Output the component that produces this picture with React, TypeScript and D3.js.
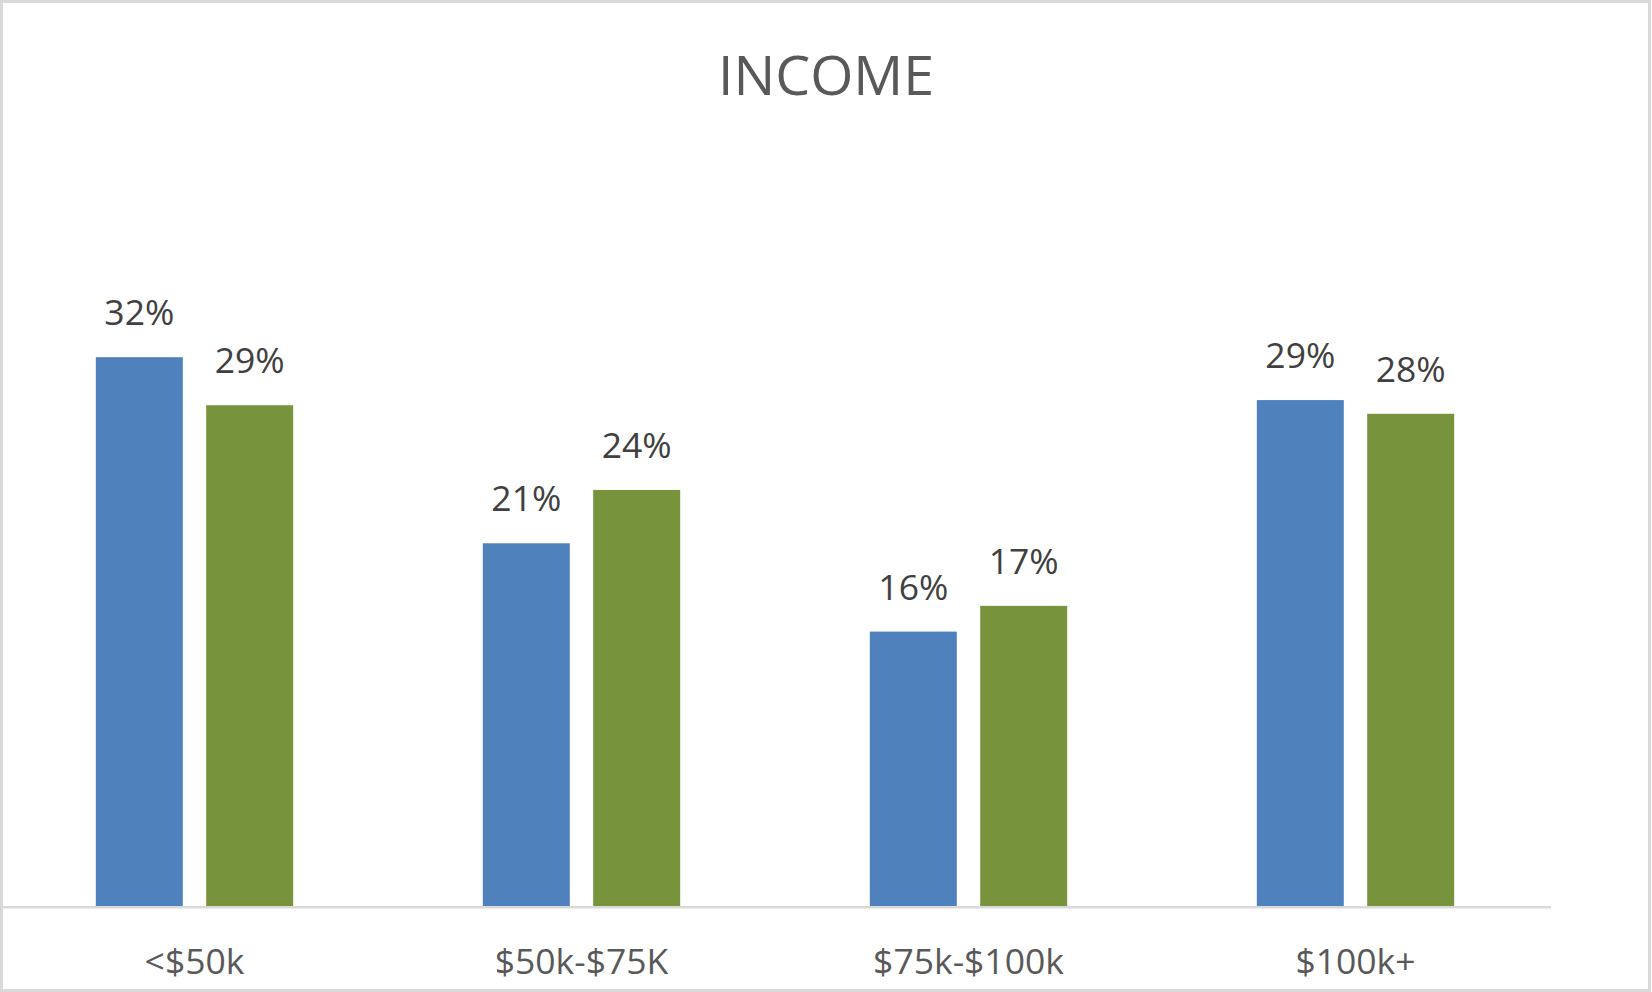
import React from "react";
import * as d3 from "d3";

const categories = ["<$50k", "$50k-$75K", "$75k-$100k", "$100k+"];
const seriesNames = ["Series A", "Series B"];
const seriesA = [32.0, 21.15, 16.0, 29.5];
const seriesB = [29.2, 24.26, 17.5, 28.7];
const labelsA = ["32%", "21%", "16%", "29%"];
const labelsB = ["29%", "24%", "17%", "28%"];
const colors = ["#4F81BD", "#77933C"];

const W = 1652;
const H = 992;

export default function App() {
  const plotLeft = 1;
  const plotRight = 1549;
  const zeroY = 906;
  const pxPerPct = 17.15;
  const yMax = 35;
  const y = d3.scaleLinear().domain([0, yMax]).range([zeroY, zeroY - yMax * pxPerPct]);
  const x0 = d3
    .scaleBand<string>()
    .domain(categories)
    .range([plotLeft, plotRight])
    .paddingInner(0.49)
    .paddingOuter(0.245);
  const x1 = d3
    .scaleBand<string>()
    .domain(seriesNames)
    .range([0, x0.bandwidth()])
    .paddingInner(0.212);
  const series = [
    { name: seriesNames[0], values: seriesA, labels: labelsA, color: colors[0] },
    { name: seriesNames[1], values: seriesB, labels: labelsB, color: colors[1] },
  ];
  const font = "'Open Sans', 'Noto Sans', sans-serif";
  return (
    <svg
      width={W}
      height={H}
      style={{ position: "absolute", left: 0, top: 0, background: "#fff" }}
      fontFamily={font}
    >
      <rect x={0} y={0} width={W} height={H} fill="#ffffff" />
      <text x={826} y={95} textAnchor="middle" fontSize={55.5} fill="#595959">
        INCOME
      </text>
      {series.map((s) =>
        categories.map((c, i) => {
          const bx = (x0(c) as number) + (x1(s.name) as number);
          const bw = x1.bandwidth();
          const top = y(s.values[i]);
          return (
            <g key={s.name + c}>
              <rect x={bx} y={top} width={bw} height={zeroY - top} fill={s.color} />
              <text
                x={bx + bw / 2}
                y={top - 32}
                textAnchor="middle"
                fontSize={35.5}
                fill="#404040"
              >
                {s.labels[i]}
              </text>
            </g>
          );
        })
      )}
      <line x1={3} x2={1551} y1={907.3} y2={907.3} stroke="#d9d9d9" strokeWidth={2.6} />
      {categories.map((c) => (
        <text
          key={c}
          x={(x0(c) as number) + x0.bandwidth() / 2}
          y={974}
          textAnchor="middle"
          fontSize={35.5}
          fill="#595959"
        >
          {c}
        </text>
      ))}
      <rect x={1.5} y={1.5} width={1648} height={989} fill="none" stroke="#d9d9d9" strokeWidth={3} />
    </svg>
  );
}
